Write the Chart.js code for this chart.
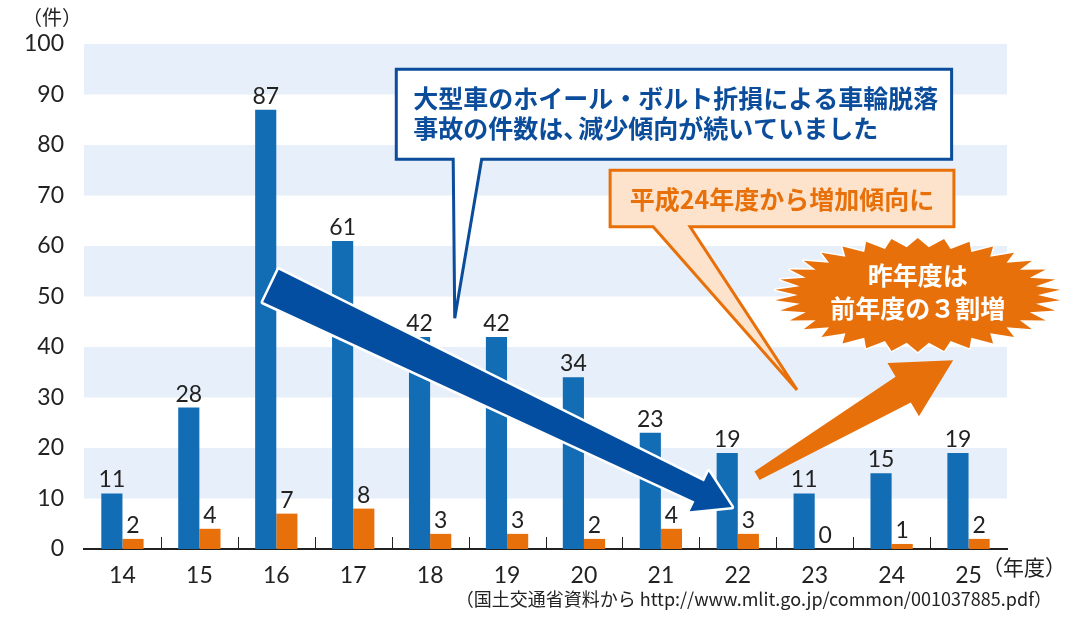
<!DOCTYPE html>
<html lang="ja">
<head>
<meta charset="UTF-8">
<script src="https://cdn.jsdelivr.net/npm/chart.js"></script>
<style>
  html, body { margin:0; padding:0; background:#fff; }
  #wrap { width:1077px; height:619px; position:relative; }
</style>
</head>
<body>
<div id="wrap"><canvas id="cvs" width="1077" height="619"></canvas></div>
<script>
// 年度
const years = ['14','15','16','17','18','19','20','21','22','23','24','25'];
// 車輪脱落事故件数 (青) / 人身事故 (橙)
const blueCounts   = [11, 28, 87, 61, 42, 42, 34, 23, 19, 11, 15, 19];
const orangeCounts = [ 2,  4,  7,  8,  3,  3,  2,  4,  3,  0,  1,  2];
const yTicks = [0, 10, 20, 30, 40, 50, 60, 70, 80, 90, 100];
const bandStarts = [10, 30, 50, 70, 90];

const BLUE = '#126db5', ORANGE = '#e8700a', NAVY = '#0b4c9b';
const JP = '"Noto Sans CJK JP", "Noto Sans", sans-serif';
const NUMFAM = 'Lato, "Noto Sans CJK JP", sans-serif';
const NUM = { size: 23, family: NUMFAM, weight: 400 };

// 背景の帯と区切り目盛
const bands = {
  id: 'bands',
  beforeDatasetsDraw(chart) {
    const { ctx, chartArea: a, scales: { x, y } } = chart;
    ctx.save();
    ctx.fillStyle = '#e7f0fa';
    bandStarts.forEach(v => {
      const t = y.getPixelForValue(v + 10), b = y.getPixelForValue(v);
      ctx.fillRect(a.left, t, a.right - a.left, b - t);
    });
    ctx.restore();
  },
  afterDatasetsDraw(chart) {
    const { ctx, chartArea: a, scales: { x } } = chart;
    ctx.save();
    ctx.strokeStyle = '#222'; ctx.lineWidth = 1;
    for (let i = 1; i < years.length; i++) {
      const px = Math.round(x.getPixelForValue(i - 0.5)) + 0.5;
      ctx.beginPath(); ctx.moveTo(px, a.bottom - 12); ctx.lineTo(px, a.bottom); ctx.stroke();
    }
    // 値ラベル
    ctx.fillStyle = '#222';
    ctx.font = '400 23px ' + NUMFAM;
    ctx.textAlign = 'center'; ctx.textBaseline = 'bottom';
    chart.data.datasets.forEach((ds, di) => {
      chart.getDatasetMeta(di).data.forEach((bar, i) => {
        ctx.fillText(String(ds.data[i]), bar.x, bar.y - 2);
      });
    });
    ctx.restore();
  }
};

function arrow(ctx, p0, p1, w0, w1, hw, hl, fill, outline) {
  const dx = p1[0] - p0[0], dy = p1[1] - p0[1], L = Math.hypot(dx, dy);
  const ux = dx / L, uy = dy / L, nx = -uy, ny = ux;
  const bx = p1[0] - ux * hl, by = p1[1] - uy * hl;
  const pts = [
    [p0[0] + nx*w0/2, p0[1] + ny*w0/2], [bx + nx*w1/2, by + ny*w1/2], [bx + nx*hw/2, by + ny*hw/2],
    p1,
    [bx - nx*hw/2, by - ny*hw/2], [bx - nx*w1/2, by - ny*w1/2], [p0[0] - nx*w0/2, p0[1] - ny*w0/2]
  ];
  ctx.beginPath();
  pts.forEach((p, k) => k ? ctx.lineTo(p[0], p[1]) : ctx.moveTo(p[0], p[1]));
  ctx.closePath();
  if (outline) { ctx.lineJoin = 'round'; ctx.strokeStyle = '#fff'; ctx.lineWidth = 5; ctx.stroke(); }
  ctx.fillStyle = fill; ctx.fill();
}

function callout(ctx, tl, br, tailL, tailR, tip, fill, stroke) {
  ctx.beginPath();
  ctx.moveTo(tl[0], tl[1]); ctx.lineTo(br[0], tl[1]); ctx.lineTo(br[0], br[1]);
  ctx.lineTo(tailR, br[1]); ctx.lineTo(tip[0], tip[1]); ctx.lineTo(tailL, br[1]);
  ctx.lineTo(tl[0], br[1]); ctx.closePath();
  ctx.fillStyle = fill; ctx.fill();
  ctx.lineWidth = 3; ctx.lineJoin = 'miter'; ctx.strokeStyle = stroke; ctx.stroke();
}

// 注釈 (吹き出し・矢印・星形)
const notes = {
  id: 'notes',
  afterDraw(chart) {
    const { ctx, scales: { x, y } } = chart;
    const at = (i, v) => [x.getPixelForValue(i), y.getPixelForValue(v)];
    ctx.save();

    // 青の吹き出し
    const b0 = at(3.56, 95.0), b1 = at(10.78, 77.2);
    callout(ctx, b0, b1, at(4.30, 0)[0], at(4.67, 0)[0], at(4.32, 45.7), '#fff', NAVY);
    ctx.fillStyle = NAVY; ctx.font = 'bold 25px ' + JP;
    ctx.textAlign = 'left'; ctx.textBaseline = 'middle';
    const tx = at(3.78, 0)[0];
    ctx.fillText('大型車のホイール・ボルト折損による車輪脱落', tx, at(0, 89.3)[1]);
    const l2y = at(0, 83.2)[1];
    const p1 = '事故の件数は、';
    ctx.fillText(p1, tx, l2y);
    ctx.fillText('減少傾向が続いていました', tx + ctx.measureText(p1).width - 10, l2y);

    // 橙の吹き出し
    const o0 = at(6.34, 75.0), o1 = at(10.81, 63.8);
    callout(ctx, o0, o1, at(6.90, 0)[0], at(7.38, 0)[0], at(8.77, 31.5), '#fde3cb', ORANGE);
    ctx.fillStyle = ORANGE; ctx.font = 'bold 25px ' + JP;
    ctx.textAlign = 'center';
    ctx.fillText('平成24年度から増加傾向に', (o0[0] + o1[0]) / 2, (o0[1] + o1[1]) / 2 + 1);

    // 減少の矢印
    arrow(ctx, at(1.93, 52.1), at(7.92, 8.3), 36, 22, 44, 36, '#034ea0', true);
    // 増加の矢印
    arrow(ctx, at(8.25, 14.5), at(10.80, 37.4), 10, 30, 62, 58, ORANGE, false);

    // 星形
    const c = at(10.34, 50.3), rx = 143, ry = 57, n = 34;
    ctx.beginPath();
    for (let k = 0; k < n * 2; k++) {
      const ang = Math.PI * k / n - Math.PI / 2;
      const r = k % 2 ? 0.84 : 1;
      const px = c[0] + rx * r * Math.cos(ang), py = c[1] + ry * r * Math.sin(ang);
      k ? ctx.lineTo(px, py) : ctx.moveTo(px, py);
    }
    ctx.closePath();
    ctx.lineWidth = 3; ctx.strokeStyle = '#fff'; ctx.stroke();
    ctx.fillStyle = ORANGE; ctx.fill();
    ctx.fillStyle = '#fff'; ctx.font = 'bold 25px ' + JP; ctx.textAlign = 'center';
    ctx.fillText('昨年度は', c[0], c[1] - 19);
    ctx.fillText('前年度の３割増', c[0], c[1] + 14);

    // 単位と出典
    ctx.fillStyle = '#222'; ctx.font = '20px ' + JP; ctx.textAlign = 'center';
    ctx.fillText('（件）', 52, 17);
    ctx.textAlign = 'left'; ctx.font = '21px ' + JP;
    ctx.fillText('（年度）', 982, 567);
    ctx.textAlign = 'right'; ctx.font = '18px ' + JP;
    ctx.fillText('（国土交通省資料から http://www.mlit.go.jp/common/001037885.pdf）', 1052, 599);
    ctx.restore();
  }
};

new Chart(document.getElementById('cvs'), {
  type: 'bar',
  data: {
    labels: years,
    datasets: [
      { label: '車輪脱落事故', data: blueCounts, backgroundColor: BLUE },
      { label: '人身事故', data: orangeCounts, backgroundColor: ORANGE }
    ]
  },
  options: {
    responsive: false,
    animation: false,
    devicePixelRatio: 1,
    layout: { padding: { top: 44, right: 70, left: 0, bottom: 0 } },
    plugins: { legend: { display: false }, tooltip: { enabled: false } },
    datasets: { bar: { categoryPercentage: 0.55, barPercentage: 1.0 } },
    scales: {
      x: {
        grid: { display: false },
        border: { display: true, color: '#222', width: 2 },
        ticks: { color: '#222', font: NUM, padding: 5 },
        afterFit(s) { s.height = 70; }
      },
      y: {
        min: 0, max: 100,
        afterBuildTicks(s) { s.ticks = yTicks.map(v => ({ value: v })); },
        grid: { display: false },
        border: { display: false },
        ticks: { color: '#222', font: NUM, padding: 12 },
        afterFit(s) { s.width = 84; }
      }
    }
  },
  plugins: [bands, notes]
});
</script>
</body>
</html>
